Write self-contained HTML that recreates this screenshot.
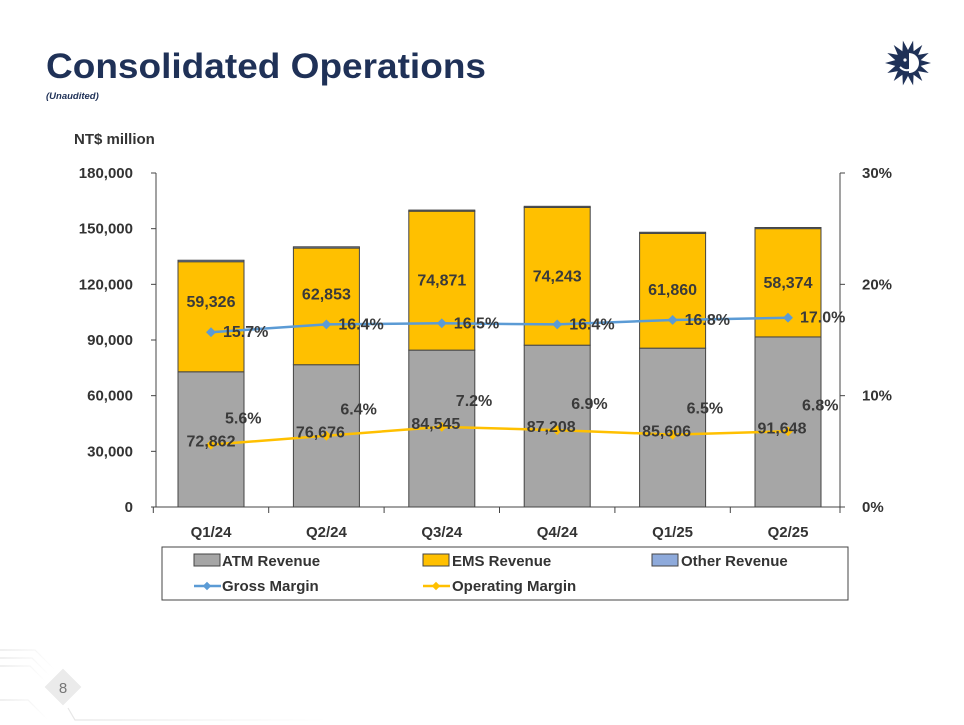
<!DOCTYPE html>
<html><head><meta charset="utf-8">
<style>
html,body{margin:0;padding:0;background:#fff;}
svg{display:block;font-family:"Liberation Sans",sans-serif;}
</style></head>
<body>
<svg id="c" width="964" height="725" viewBox="0 0 964 725">
  <defs>
    <linearGradient id="fade" x1="0" x2="1" y1="0" y2="0">
      <stop offset="0" stop-color="#e6e6e6"/><stop offset="1" stop-color="#ffffff"/>
    </linearGradient>
  </defs>
  <g stroke="url(#fade)" stroke-width="1.2" fill="none">
    <path d="M0 650 H35 L55 670"/><path d="M0 658 H32 L50 676"/><path d="M0 666 H30 L46 682"/>
    <path d="M80 650 H320"/><path d="M75 660 H300 "/><path d="M78 670 H290"/><path d="M80 695 H280"/>
    <path d="M68 708 L75 720 H330"/><path d="M0 700 H28 L48 720"/>
  </g>
  <rect x="50" y="674" width="26" height="26" transform="rotate(45 63 687)" fill="#ebebeb"/>
  <text x="63" y="693" font-size="15" fill="#777" text-anchor="middle">8</text>

  <text x="46" y="78" font-size="35" font-weight="bold" fill="#1f3157" textLength="440" lengthAdjust="spacingAndGlyphs">Consolidated Operations</text>
  <text x="46" y="99" font-size="9.5" font-style="italic" font-weight="bold" fill="#1f3157">(Unaudited)</text>

  <g transform="translate(908,63)">
    <polygon id="sun" fill="#1f3157"/>
    <path d="M1 -10 A10 10 0 0 1 1 10 Z" fill="#fff"/>
    <path d="M-8 4 Q-2 10 5 5" stroke="#fff" stroke-width="2" fill="none"/>
    <circle cx="-3" cy="-3" r="1.6" fill="#fff"/>
  </g>

  <text x="74" y="144" font-size="15" font-weight="bold" fill="#333">NT$ million</text>

  <g id="plot"></g>

  <g>
    <rect x="162" y="547" width="686" height="53" fill="#fff" stroke="#444" stroke-width="1"/>
    <g>
      <rect x="194" y="554" width="26" height="12" fill="#a6a6a6" stroke="#444"/>
      <text x="222" y="566" font-size="15" font-weight="bold" fill="#333">ATM Revenue</text>
    </g>
    <g>
      <rect x="423" y="554" width="26" height="12" fill="#ffc000" stroke="#444"/>
      <text x="452" y="566" font-size="15" font-weight="bold" fill="#333">EMS Revenue</text>
    </g>
    <g>
      <rect x="652" y="554" width="26" height="12" fill="#8eaadb" stroke="#444"/>
      <text x="681" y="566" font-size="15" font-weight="bold" fill="#333">Other Revenue</text>
    </g>
    <g>
      <line x1="194" y1="586" x2="221" y2="586" stroke="#5b9bd5" stroke-width="2.5"/>
      <rect x="204" y="583" width="6" height="6" transform="rotate(45 207 586)" fill="#5b9bd5"/>
      <text x="222" y="591" font-size="15" font-weight="bold" fill="#333">Gross Margin</text>
    </g>
    <g>
      <line x1="423" y1="586" x2="450" y2="586" stroke="#ffc000" stroke-width="2.5"/>
      <rect x="433" y="583" width="6" height="6" transform="rotate(45 436 586)" fill="#ffc000"/>
      <text x="452" y="591" font-size="15" font-weight="bold" fill="#333">Operating Margin</text>
    </g>
  </g>
</svg>
<script>
const categories = ["Q1/24","Q2/24","Q3/24","Q4/24","Q1/25","Q2/25"];
const atmRevenue = [72862, 76676, 84545, 87208, 85606, 91648];
const emsRevenue = [59326, 62853, 74871, 74243, 61860, 58374];
const otherRevenue = [800, 700, 600, 600, 600, 600];
const grossMargin = [15.7, 16.4, 16.5, 16.4, 16.8, 17.0];
const operatingMargin = [5.6, 6.4, 7.2, 6.9, 6.5, 6.8];
const leftTicks = [0, 30000, 60000, 90000, 120000, 150000, 180000];
const rightTicks = [0, 10, 20, 30];

const NS = "http://www.w3.org/2000/svg";
const AX0 = 156, X1 = 840, Y0 = 507, Y1 = 173;
const X0 = 153.3;
const band = 115.4;
const xc = i => X0 + band * (i + 0.5);
const yL = v => Y0 - (v / 180000) * (Y0 - Y1);
const yR = p => Y0 - (p / 30) * (Y0 - Y1);
const plot = document.getElementById("plot");
function mk(tag, attrs, parent) {
  const e = document.createElementNS(NS, tag);
  for (const k in attrs) e.setAttribute(k, attrs[k]);
  (parent || plot).appendChild(e);
  return e;
}
const fmt = v => v.toLocaleString("en-US");

(function(){
  const pts = [];
  for (let i = 0; i < 28; i++) {
    const r = i % 2 ? 13 : 23, a = i * Math.PI / 14;
    pts.push((r * Math.cos(a)).toFixed(1) + "," + (r * Math.sin(a)).toFixed(1));
  }
  document.getElementById("sun").setAttribute("points", pts.join(" "));
})();

const axes = mk("g", {});


mk("line", {x1: AX0, y1: Y1, x2: AX0, y2: Y0, stroke: "#444"}, axes);
mk("line", {x1: X1, y1: Y1, x2: X1, y2: Y0, stroke: "#444"}, axes);
mk("line", {x1: AX0, y1: Y0, x2: X1, y2: Y0, stroke: "#444"}, axes);
leftTicks.forEach(t => {
  const y = yL(t);
  mk("line", {x1: 151, y1: y, x2: AX0, y2: y, stroke: "#444"}, axes);
  const tx = mk("text", {x: 133, y: y + 5, "font-size": 15, "font-weight": "bold", fill: "#333", "text-anchor": "end"}, axes);
  tx.textContent = fmt(t);
  
  
});
rightTicks.forEach(t => {
  const y = yR(t);
  mk("line", {x1: X1, y1: y, x2: X1 + 5, y2: y, stroke: "#444"}, axes);
  const tx = mk("text", {x: X1 + 22, y: y + 5, "font-size": 15, "font-weight": "bold", fill: "#333"}, axes);
  tx.textContent = t + "%";
  
  
});
for (let i = 0; i <= categories.length; i++) {
  const x = Math.min(X0 + band * i, X1);
  mk("line", {x1: x, y1: Y0, x2: x, y2: Y0 + 6, stroke: "#444"}, axes);
}
categories.forEach((c, i) => {
  const tx = mk("text", {x: xc(i), y: Y0 + 30, "font-size": 15, "font-weight": "bold", fill: "#333", "text-anchor": "middle"}, axes);
  tx.textContent = c;
  
  
});

const bw = 66;
categories.forEach((c, i) => {
  const x = xc(i) - bw / 2;
  const a = atmRevenue[i], e = emsRevenue[i], o = otherRevenue[i];
  const r1 = mk("rect", {x: x, y: yL(a), width: bw, height: Y0 - yL(a), fill: "#a6a6a6", stroke: "#444", "stroke-width": 1});
  
  
  const r2 = mk("rect", {x: x, y: yL(a + e), width: bw, height: yL(a) - yL(a + e), fill: "#ffc000", stroke: "#444", "stroke-width": 1});
  
  
  const r3 = mk("rect", {x: x, y: yL(a + e + o), width: bw, height: yL(a + e) - yL(a + e + o), fill: "#8eaadb", stroke: "#444", "stroke-width": 1});
  
  
});

function series(vals, color, name) {
  const g = mk("g", {});
  
  
  mk("polyline", {points: vals.map((v, i) => xc(i) + "," + yR(v)).join(" "), fill: "none", stroke: color, "stroke-width": 2.5}, g);
  vals.forEach((v, i) => {
    const m = mk("rect", {x: xc(i) - 3.5, y: yR(v) - 3.5, width: 7, height: 7, fill: color, transform: "rotate(45 " + xc(i) + " " + yR(v) + ")"}, g);
    
    
  });
}
series(grossMargin, "#5b9bd5", "gross-margin-line");
series(operatingMargin, "#ffc000", "operating-margin-line");

const lab = (x, y, s, anchor, name) => {
  const t = mk("text", {x: x, y: y, "font-size": 16, "font-weight": "bold", fill: "#3a3a3a", "text-anchor": anchor});
  t.textContent = s;
  
  
};
categories.forEach((c, i) => {
  const a = atmRevenue[i], e = emsRevenue[i];
  let ye = (yL(a) + yL(a + e)) / 2;
  ye = Math.min(ye, yR(grossMargin[i]) - 30);
  lab(xc(i), ye + 5, fmt(e), "middle", "ems-value-label");
  lab(xc(i) - 6 + (i === 0 ? 6 : 0), yR(operatingMargin[i]) + 2, fmt(a), "middle", "atm-value-label");
  lab(xc(i) + 12, yR(grossMargin[i]) + 5, grossMargin[i].toFixed(1) + "%", "start", "gross-margin-label");
  lab(xc(i) + 14, yR(operatingMargin[i]) - 21, operatingMargin[i].toFixed(1) + "%", "start", "operating-margin-label");
});
</script>
</body></html>
